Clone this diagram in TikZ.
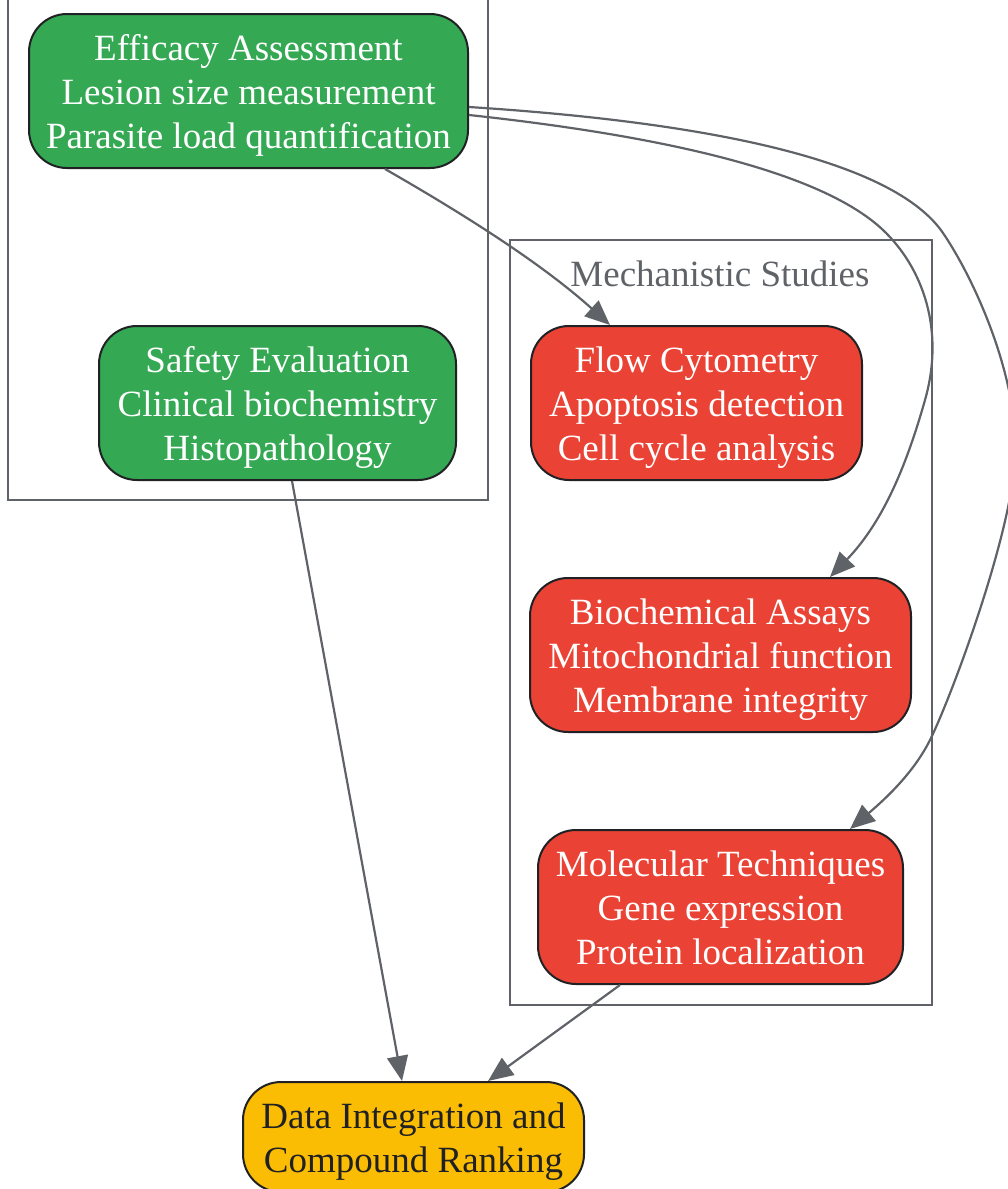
\documentclass[tikz,border=0pt]{standalone}
\usepackage{fontspec}
\setmainfont{Liberation Serif}
\usetikzlibrary{arrows.meta,calc}
\definecolor{cgreen}{HTML}{34A853}
\definecolor{cred}{HTML}{EA4335}
\definecolor{cyellow}{HTML}{FBBC04}
\definecolor{cgray}{HTML}{5F6368}
\definecolor{cdark}{HTML}{202124}
\newcommand{\boxlines}[1]{\raisebox{-5pt}[\height][\depth]{\begin{tabular}{@{}c@{}}#1\end{tabular}}}
\begin{document}
\begin{tikzpicture}[x=1pt,y=-1pt,
  box/.style={draw=cdark,line width=2pt,rounded corners=38pt,align=center,inner sep=0pt,
    font=\fontsize{37}{44}\selectfont},
  gbox/.style={box,fill=cgreen,text=white},
  rbox/.style={box,fill=cred,text=white},
  ybox/.style={box,fill=cyellow,text=cdark},
  cluster/.style={draw=cgray,line width=2pt},
  edge/.style={draw=cgray,line width=2.2pt,-{Triangle[length=25pt,width=21pt]}}]
\useasboundingbox (0,0) rectangle (1008,1189);
% clusters
\draw[cluster] (8,-10) rectangle (488,500);
\draw[cluster] (510,240) rectangle (932,1005);
\node[text=cgray,font=\fontsize{37}{44}\selectfont] (mlabel) at (720,274) {Mechanistic Studies};
% nodes
\node[gbox,minimum width=439pt,minimum height=154pt] (eff) at (248.5,91) {\boxlines{Efficacy Assessment\\Lesion size measurement\\Parasite load quantification}};
\node[gbox,minimum width=357pt,minimum height=154pt] (saf) at (277.5,403) {\boxlines{Safety Evaluation\\Clinical biochemistry\\Histopathology}};
\node[rbox,minimum width=331pt,minimum height=154pt] (flow) at (696.5,403) {\boxlines{Flow Cytometry\\Apoptosis detection\\Cell cycle analysis}};
\node[rbox,minimum width=381pt,minimum height=154pt] (bio) at (720.5,655) {\boxlines{Biochemical Assays\\Mitochondrial function\\Membrane integrity}};
\node[rbox,minimum width=365pt,minimum height=154pt] (mol) at (720.5,907) {\boxlines{Molecular Techniques\\Gene expression\\Protein localization}};
\node[ybox,minimum width=341pt,minimum height=110pt] (data) at (413.5,1137) {\boxlines{Data Integration and\\Compound Ranking}};
% edges
\draw[edge] ([xshift=136.5pt]eff.south) .. controls (460,212) and (540,262) .. ([xshift=-86.5pt]flow.north);
\draw[edge] ([yshift=-24pt]eff.east) .. controls (700,140) and (830,180) .. (883,230)
  .. controls (923,268) and (945,330) .. (925,400)
  .. controls (908,460) and (885,520) .. ([xshift=109.5pt]bio.north);
\draw[edge] ([yshift=-16pt]eff.east) .. controls (750,125) and (900,170) .. (943,233)
  .. controls (975,280) and (1020,380) .. (1015,460)
  .. controls (1010,540) and (950,700) .. (930,740)
  .. controls (915,770) and (890,795) .. ([xshift=129.5pt]mol.north);
\draw[edge] ([xshift=14.5pt]saf.south) -- ([xshift=-11.5pt]data.north);
\draw[edge] ([xshift=-100.5pt]mol.south) -- ([xshift=74.5pt]data.north);
\end{tikzpicture}
\end{document}
